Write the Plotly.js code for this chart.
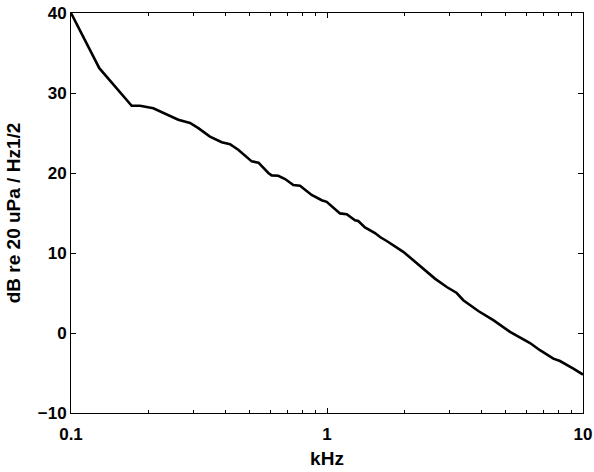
<!DOCTYPE html>
<html>
<head>
<meta charset="utf-8">
<script src="https://cdn.plot.ly/plotly-3.0.1.min.js"></script>
<style>
  html, body { margin: 0; padding: 0; background: #fff; }
  #chart { width: 594px; height: 472px; }
</style>
</head>
<body>
<div id="chart"></div>
<script>
// Frequency in kHz
const freqKHz = [0.1, 0.129, 0.1726, 0.186, 0.2097, 0.2328, 0.2624, 0.2917, 0.3144, 0.349,
  0.3879, 0.418, 0.450, 0.508, 0.540, 0.590, 0.608, 0.645, 0.686, 0.7385,
  0.7843, 0.871, 0.9535, 0.997, 1.124, 1.194, 1.287, 1.325, 1.407, 1.540,
  1.611, 1.711, 1.986, 2.173, 2.377, 2.64, 2.936, 3.212, 3.408, 3.729,
  3.90, 4.463, 5.186, 6.21, 6.79, 7.66, 8.13, 9.17, 10];
// Level in dB re 20 uPa / Hz^1/2
const levelDb = [40.0, 33.1, 28.4, 28.4, 28.1, 27.4, 26.65, 26.25, 25.6, 24.55,
  23.85, 23.6, 22.9, 21.45, 21.3, 20.0, 19.7, 19.65, 19.25, 18.5,
  18.4, 17.25, 16.6, 16.4, 14.95, 14.85, 14.1, 14.0, 13.2, 12.5,
  12.0, 11.5, 10.15, 9.1, 8.05, 6.8, 5.75, 5.0, 4.1, 3.25,
  2.75, 1.6, 0.15, -1.25, -2.15, -3.2, -3.5, -4.45, -5.2];

const xTickVals = [0.1, 1, 10];
const xTickText = ['0.1', '1', '10'];
const xMinorVals = [0.2, 0.3, 0.4, 0.5, 0.6, 0.7, 0.8, 0.9, 2, 3, 4, 5, 6, 7, 8, 9];
const yTickVals = [-10, 0, 10, 20, 30, 40];

const fontFam = 'Liberation Sans, Arial, Helvetica, sans-serif';

const trace = {
  x: freqKHz,
  y: levelDb,
  type: 'scatter',
  mode: 'lines',
  line: { color: '#000', width: 2.6 },
  hoverinfo: 'x+y'
};

const layout = {
  width: 594,
  height: 472,
  margin: { l: 71, r: 11, t: 13, b: 59 },
  paper_bgcolor: '#fff',
  plot_bgcolor: '#fff',
  showlegend: false,
  font: { family: fontFam, color: '#000' },
  xaxis: {
    type: 'log',
    range: [-1, 1],
    tickmode: 'array',
    tickvals: xTickVals,
    ticktext: xTickText,
    ticks: 'inside',
    ticklen: 5,
    tickwidth: 1,
    tickcolor: '#000',
    ticklabelstandoff: 6,
    minor: { tickmode: 'array', tickvals: xMinorVals, ticks: 'inside', ticklen: 3, tickcolor: '#000', showgrid: false },
    showgrid: false,
    zeroline: false,
    showline: true,
    linecolor: '#000',
    linewidth: 1,
    mirror: 'ticks',
    tickfont: { family: fontFam, size: 17, color: '#000', weight: 'bold' },
    title: { text: '<b>kHz</b>', font: { family: fontFam, size: 19, color: '#000' }, standoff: 8 }
  },
  yaxis: {
    range: [-10, 40],
    tickmode: 'array',
    tickvals: yTickVals,
    ticks: 'inside',
    ticklen: 5,
    tickwidth: 1,
    tickcolor: '#000',
    showgrid: false,
    zeroline: false,
    showline: true,
    linecolor: '#000',
    linewidth: 1,
    mirror: 'ticks',
    tickfont: { family: fontFam, size: 17, color: '#000', weight: 'bold' },
    title: { text: '<b>dB re 20 uPa / Hz1/2</b>', font: { family: fontFam, size: 19, color: '#000' }, standoff: 12 }
  }
};

Plotly.newPlot('chart', [trace], layout, { displayModeBar: false, staticPlot: true });
</script>
</body>
</html>
